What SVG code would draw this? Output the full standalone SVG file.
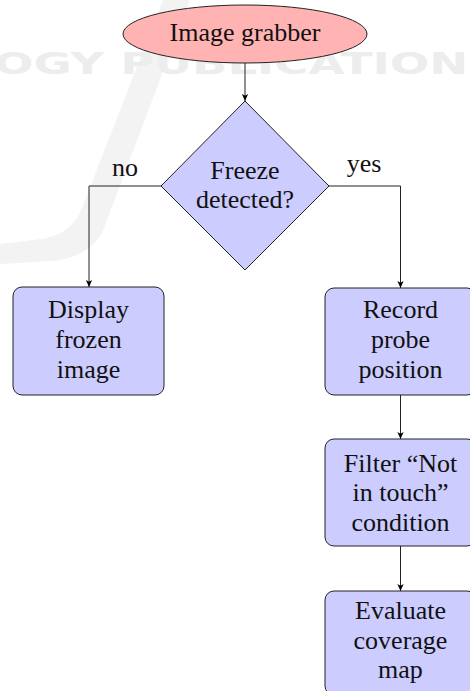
<svg xmlns="http://www.w3.org/2000/svg" width="470" height="691" viewBox="0 0 470 691">
  <defs>
    <marker id="arrow" viewBox="0 0 10 10" refX="10" refY="5" markerWidth="7" markerHeight="7" markerUnits="userSpaceOnUse" orient="auto">
      <path d="M0,0.5 L10,5 L0,9.5 L2.5,5 Z" fill="#000"/>
    </marker>
  </defs>
  <style>
    .lbl { font-family: "Liberation Serif", "Times New Roman", serif; font-size: 26px; fill: #111; text-anchor: middle; }
    .step { fill: #ccccff; stroke: #222; stroke-width: 1; }
    .start { fill: #ffb3b3; stroke: #222; stroke-width: 1; }
    .link { fill: none; stroke: #222; stroke-width: 1; marker-end: url(#arrow); }
    .mark { fill: #f3f3f3; }
    .mark-text { font-family: "DejaVu Sans", sans-serif; font-weight: bold; font-size: 30px; fill: #ededed; }
  </style>

  <rect width="470" height="691" fill="#fff"/>

  <!-- faint background watermark -->
  <g id="watermark">
    <path class="mark" d="M190,0 L163,0 L82,208 Q72,234 42,239 L0,244 L0,264 L52,261 Q92,257 104,228 Z"/>
    <text class="mark-text" x="-6" y="74" textLength="474" lengthAdjust="spacingAndGlyphs">OGY PUBLICATION</text>
  </g>

  <!-- connectors -->
  <g id="connectors">
    <line class="link" x1="245" y1="63" x2="245" y2="101"/>
    <polyline class="link" points="161,186 89,186 89,287"/>
    <polyline class="link" points="329,186 400.5,186 400.5,288"/>
    <line class="link" x1="400.5" y1="395" x2="400.5" y2="439"/>
    <line class="link" x1="400.5" y1="546" x2="400.5" y2="591"/>
    <text class="lbl" x="125" y="176">no</text>
    <text class="lbl" x="364" y="172">yes</text>
  </g>

  <g id="image-grabber">
    <ellipse class="start" cx="245" cy="34" rx="122" ry="29"/>
    <text class="lbl" x="245" y="41">Image grabber</text>
  </g>

  <g id="freeze-detected">
    <polygon class="step" points="245,101 329,186 245,270 161,186"/>
    <text class="lbl" x="245" y="179">Freeze</text>
    <text class="lbl" x="245" y="208">detected?</text>
  </g>

  <g id="display-frozen">
    <rect class="step" x="13" y="287" width="151" height="108" rx="9"/>
    <text class="lbl" x="88.5" y="318">Display</text>
    <text class="lbl" x="88.5" y="348">frozen</text>
    <text class="lbl" x="88.5" y="378">image</text>
  </g>

  <g id="record-position">
    <rect class="step" x="325" y="288" width="151" height="107" rx="9"/>
    <text class="lbl" x="400.5" y="318">Record</text>
    <text class="lbl" x="400.5" y="348">probe</text>
    <text class="lbl" x="400.5" y="378">position</text>
  </g>

  <g id="filter-touch">
    <rect class="step" x="325" y="439" width="151" height="107" rx="9"/>
    <text class="lbl" x="400.5" y="472">Filter “Not</text>
    <text class="lbl" x="400.5" y="501">in touch”</text>
    <text class="lbl" x="400.5" y="531">condition</text>
  </g>

  <g id="evaluate-coverage">
    <rect class="step" x="325" y="591" width="151" height="104" rx="9"/>
    <text class="lbl" x="400.5" y="619">Evaluate</text>
    <text class="lbl" x="400.5" y="649">coverage</text>
    <text class="lbl" x="400.5" y="678">map</text>
  </g>
</svg>
